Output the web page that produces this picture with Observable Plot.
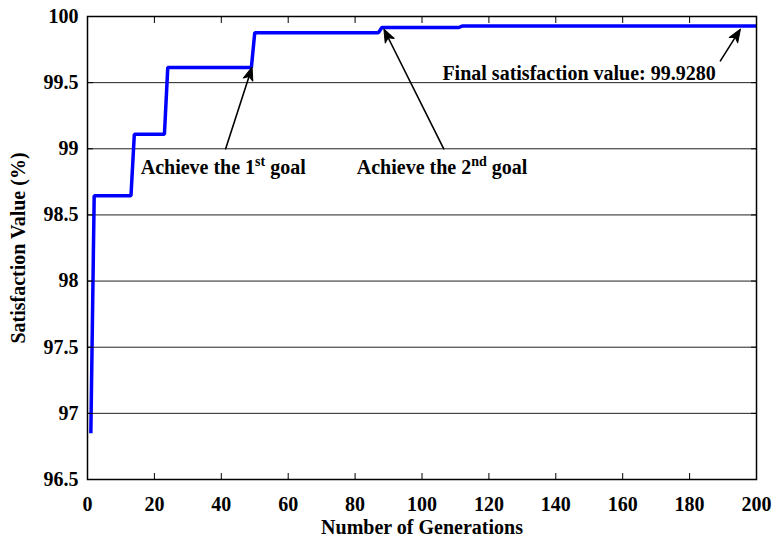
<!DOCTYPE html>
<html><head><meta charset="utf-8">
<script src="https://cdn.jsdelivr.net/npm/d3@7"></script>
<script src="https://cdn.jsdelivr.net/npm/@observablehq/plot@0.6"></script>
<style>body{margin:0;background:#fff}</style>
</head><body><div id="chart"></div>
<script>
const generations = [1, 2, 13, 14, 23, 24, 49, 50, 87, 88, 111, 112, 200];
const satisfaction = [96.85, 98.645, 98.645, 99.11, 99.11, 99.615, 99.615, 99.878, 99.878, 99.917, 99.917, 99.928, 99.928];
const xTicks = [0, 20, 40, 60, 80, 100, 120, 140, 160, 180, 200];
const yTicks = [96.5, 97, 97.5, 98, 98.5, 99, 99.5, 100];
const noteTexts = ["Achieve the 1st goal", "Achieve the 2nd goal", "Final satisfaction value: 99.9280"];
const noteX = [15.9, 80.5, 106.1];
const noteY = [98.86, 98.86, 99.57];
const arrowX1 = [41.3, 106.5, 189.2];
const arrowY1 = [99.0, 99.0, 99.665];
const arrowX2 = [49.2, 88.6, 195.2];
const arrowY2 = [99.617, 99.905, 99.905];

const W = 772, H = 538, mL = 87, mR = 16, mT = 16, mB = 59;
const xDom = [0, 200], yDom = [96.5, 100];
const kx = (W - mL - mR) / (xDom[1] - xDom[0]);
const ky = (H - mT - mB) / (yDom[1] - yDom[0]);

const series = generations.map((g, i) => ({g, v: satisfaction[i]}));
const notes = noteTexts.map((t, i) => ({t, x: noteX[i], y: noteY[i]}));
const arrows = arrowX1.map((x1, i) => {
  const dx = (arrowX2[i] - x1) * kx, dy = -(arrowY2[i] - arrowY1[i]) * ky;
  return {x1, y1: arrowY1[i], x2: arrowX2[i], y2: arrowY2[i], angle: Math.atan2(dx, -dy) * 180 / Math.PI};
});
const headShape = {
  draw(context, l, r) {
    context.moveTo(0, -l);
    context.lineTo(-r, 0);
    context.lineTo(0, -l * 0.25);
    context.lineTo(r, 0);
    context.closePath();
  }
};
const fmt = d => String(d);

const chart = Plot.plot({
  width: W, height: H,
  marginLeft: mL, marginRight: mR, marginTop: mT, marginBottom: mB,
  style: {fontFamily: "Liberation Serif", fontWeight: "bold", fontSize: "20px", background: "#fff", color: "#000"},
  x: {domain: xDom},
  y: {domain: yDom},
  marks: [
    Plot.ruleY(yTicks.slice(1, -1), {stroke: "#222", strokeWidth: 1}),
    Plot.line(series, {x: "g", y: "v", stroke: "#0000ff", strokeWidth: 3.5, strokeLinejoin: "miter", strokeLinecap: "butt"}),
    Plot.arrow(arrows, {x1: "x1", y1: "y1", x2: "x2", y2: "y2", stroke: "#000", strokeWidth: 1.6, headLength: 0, insetEnd: 3}),
    Plot.vector(arrows, {x: "x2", y: "y2", rotate: "angle", length: 13, r: 5, anchor: "end", shape: headShape, fill: "#000", stroke: "#000", strokeWidth: 1}),
    Plot.text(notes, {x: "x", y: "y", text: "t", textAnchor: "start", lineAnchor: "middle", fill: "#000"}),
    Plot.frame({stroke: "#000", strokeWidth: 1.5}),
    Plot.axisX({ticks: xTicks, tickFormat: fmt, tickSize: 0, tickPadding: 17, label: "Number of Generations", labelAnchor: "center", labelOffset: 54, labelArrow: "none"}),
    Plot.axisX({anchor: "bottom", ticks: xTicks, tickSize: 6, tickFormat: () => "", dy: -6, label: null}),
    Plot.axisX({anchor: "top", ticks: xTicks, tickSize: 6, tickFormat: () => "", dy: 6, label: null}),
    Plot.axisY({ticks: yTicks, tickFormat: fmt, tickSize: 0, tickPadding: 9, label: "Satisfaction Value (%)", labelAnchor: "center", labelOffset: 77, labelArrow: "none"}),
    Plot.axisY({anchor: "left", ticks: yTicks, tickSize: 6, tickFormat: () => "", dx: 6, label: null}),
    Plot.axisY({anchor: "right", ticks: yTicks, tickSize: 6, tickFormat: () => "", dx: -6, label: null})
  ]
});

const ns = "http://www.w3.org/2000/svg";
chart.querySelectorAll("text").forEach(t => {
  const m = t.textContent.match(/^(Achieve the \d)(st|nd)( goal)$/);
  if (!m) return;
  while (t.firstChild) t.removeChild(t.firstChild);
  t.appendChild(document.createTextNode(m[1]));
  const sup = document.createElementNS(ns, "tspan");
  sup.setAttribute("dy", "-8");
  sup.setAttribute("font-size", "14");
  sup.textContent = m[2];
  t.appendChild(sup);
  const rest = document.createElementNS(ns, "tspan");
  rest.setAttribute("dy", "8");
  rest.setAttribute("font-size", "20");
  rest.textContent = m[3];
  t.appendChild(rest);
});
document.getElementById("chart").appendChild(chart);
</script>
</body></html>
